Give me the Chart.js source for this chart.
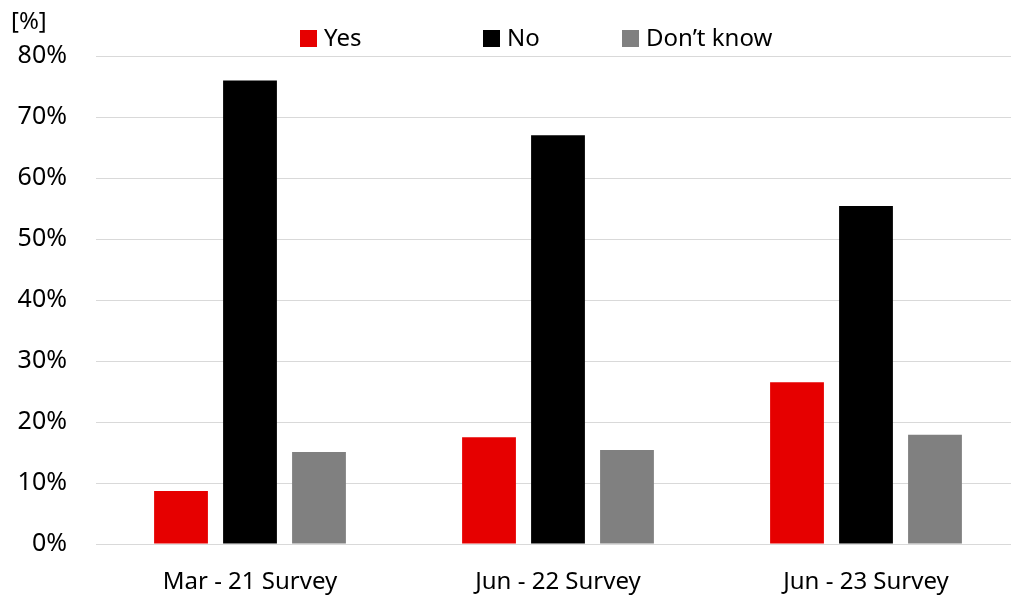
<!DOCTYPE html>
<html>
<head>
<meta charset="utf-8">
<script src="https://cdn.jsdelivr.net/npm/chart.js@4/dist/chart.umd.min.js"></script>
<style>
  html, body { margin: 0; padding: 0; background: #fff; overflow: hidden; }
  #wrap { position: relative; width: 1011px; height: 596px; overflow: hidden; font-family: "Noto Sans", sans-serif; }
  #box { position: absolute; left: 0; top: 0; width: 1020px; height: 596px; }
  .unit { position: absolute; left: 11px; top: 3px; font-size: 24px; color: #000; }
  .legend { position: absolute; top: 20px; font-size: 24px; color: #000; white-space: nowrap; }
  .legend i { display: inline-block; width: 17px; height: 17px; margin-right: 7px; vertical-align: -1px; }
</style>
</head>
<body>
<div id="wrap">
  <div id="box"><canvas id="chart" width="1020" height="596"></canvas></div>
  <div class="unit">[%]</div>
  <div class="legend" style="left:300px"><i style="background:#e60000"></i>Yes</div>
  <div class="legend" style="left:483px"><i style="background:#000"></i>No</div>
  <div class="legend" style="left:622px"><i style="background:#808080"></i>Don’t know</div>
</div>
<script>
// Chart data
const categories = ['Mar - 21 Survey', 'Jun - 22 Survey', 'Jun - 23 Survey'];
const yesValues = [8.7, 17.5, 26.5];
const noValues = [76.0, 67.0, 55.4];
const dontKnowValues = [15.1, 15.4, 17.9];
const yTicks = [0, 10, 20, 30, 40, 50, 60, 70, 80];

const ctx = document.getElementById('chart').getContext('2d');
const barOpts = { categoryPercentage: 0.672, barPercentage: 0.78, borderWidth: 0 };

new Chart(ctx, {
    type: 'bar',
    data: {
        labels: categories,
        datasets: [
            { label: 'Yes', data: yesValues, backgroundColor: '#e60000', ...barOpts },
            { label: 'No', data: noValues, backgroundColor: '#000000', ...barOpts },
            { label: 'Don’t know', data: dontKnowValues, backgroundColor: '#808080', ...barOpts }
        ]
    },
    options: {
        responsive: false,
        animation: false,
        layout: { padding: { top: 56, right: 0, left: 0, bottom: 0 } },
        plugins: { legend: { display: false }, tooltip: { enabled: false } },
        scales: {
            x: {
                grid: { display: false, drawTicks: false },
                border: { display: false },
                ticks: { color: '#000', font: { family: 'Noto Sans', size: 24 }, padding: 24, maxRotation: 0 },
                afterFit: (scale) => { scale.height = 52; }
            },
            y: {
                min: 0,
                max: 80,
                grid: { color: '#d9d9d9', lineWidth: 1, drawTicks: false },
                border: { display: false },
                afterBuildTicks: (scale) => { scale.ticks = yTicks.map(v => ({ value: v })); },
                ticks: {
                    color: '#000',
                    font: { family: 'Noto Sans', size: 25 },
                    padding: 29,
                    callback: (v) => v + '%'
                },
                afterFit: (scale) => { scale.width = 96; }
            }
        }
    }
});
</script>
</body>
</html>
